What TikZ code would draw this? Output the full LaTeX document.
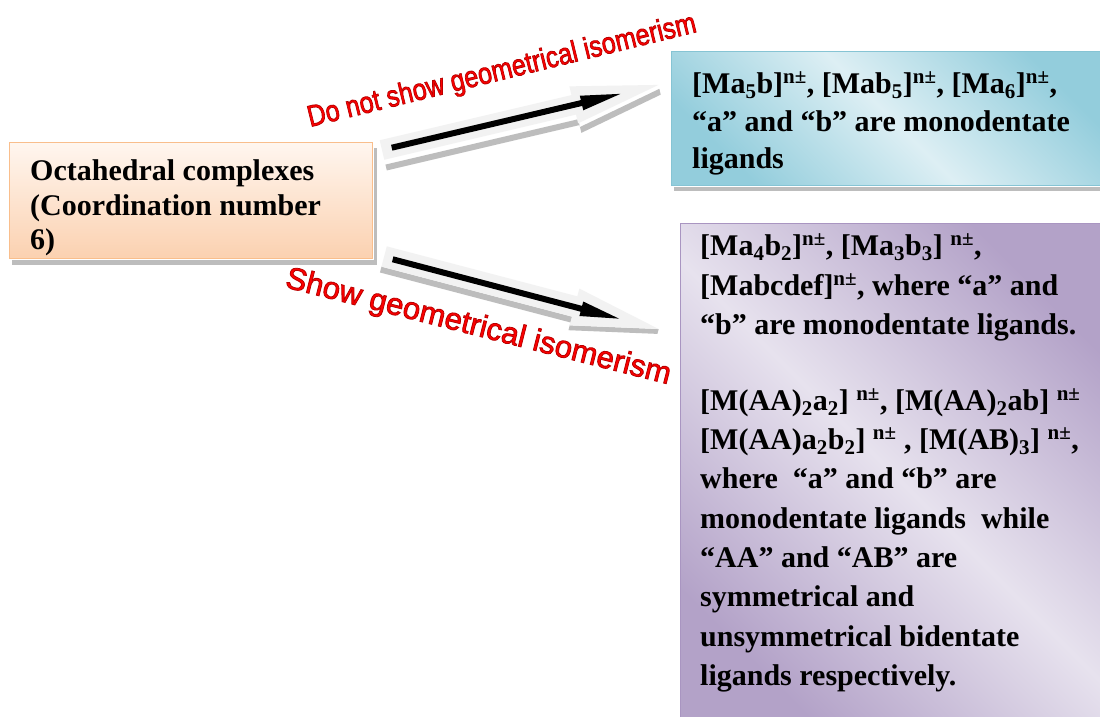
\documentclass[tikz,border=0pt]{standalone}
\usepackage{fontspec}
\setmainfont{Liberation Serif}
\newfontfamily\redlabelfont{Liberation Sans}
\usepackage{graphicx}
\usetikzlibrary{calc}

\definecolor{peachlight}{HTML}{FFF6EF}
\definecolor{peachdark}{HTML}{FBD1B0}
\definecolor{peachborder}{HTML}{F9BE8C}
\definecolor{bluelight}{HTML}{DDEFF4}
\definecolor{bluedark}{HTML}{93CDDC}
\definecolor{blueborder}{HTML}{86C4D4}
\definecolor{purplelight}{HTML}{E7E2EE}
\definecolor{purpledark}{HTML}{B3A2C8}
\definecolor{purpleborder}{HTML}{A995C1}
\definecolor{arrowfill}{HTML}{F2F2F2}
\definecolor{shadowgray}{HTML}{BDBDBD}
\definecolor{labelred}{HTML}{FF0000}

% red fill with a thin dark-red outline: text render mode 2 (fill, then stroke)
\newcommand{\outlinedtext}[1]{{\color{labelred}%
  \special{pdf:literal direct 2 Tr 0.8 w 0.72 0 0 RG}#1%
  \special{pdf:literal direct 0 Tr}}}

\tikzset{
  boxbase/.style={rectangle, anchor=north west, inner sep=0pt},
  orangebox/.style={boxbase, draw=peachborder, line width=1.4pt,
    top color=peachlight, bottom color=peachdark},
  bluebox/.style={boxbase, draw=blueborder, line width=1.2pt,
    top color=bluedark, bottom color=bluedark, middle color=bluelight, shading angle=-45},
  purplebox/.style={boxbase, draw=purpleborder, line width=1.2pt,
    top color=purpledark, bottom color=purpledark, middle color=purplelight, shading angle=-45},
  boxshadow/.style={fill=shadowgray},
  txt/.style={anchor=base west, inner sep=0pt, font=\fontsize{30}{36}\selectfont\bfseries},
  redlabel/.style={anchor=base west, inner sep=0pt},
  arrowouter/.style={fill=arrowfill},
  arrowshadow/.style={fill=shadowgray},
  arrowinner/.style={fill=black}
}

\begin{document}
\begin{tikzpicture}[x=1pt,y=-1pt]
\useasboundingbox (0,0) rectangle (1100,717);
\clip (0,0) rectangle (1100,717);
\fill[white] (0,0) rectangle (1100,717);

% boxes
\node[orangebox, minimum width=363pt, minimum height=116pt] (oct) at (9,142) {};
\fill[boxshadow] ($(oct.south west)+(3,1)$) rectangle ($(oct.south east)+(4,6)$);
\fill[boxshadow] ($(oct.north east)+(1,6)$) rectangle ($(oct.south east)+(4,6)$);

\node[bluebox, minimum width=440pt, minimum height=134pt] (nogeo) at (671,51) {};
\fill[boxshadow] ($(nogeo.south west)+(3,1)$) rectangle ($(nogeo.south east)+(4,5)$);

\node[purplebox, minimum width=430pt, minimum height=505pt] (geo) at (680,223) {};

% texts of the left box
\node[txt] (oct1) at (30,180) {Octahedral complexes};
\node[txt] (oct2) at (30,215) {(Coordination number};
\node[txt] (oct3) at (30,249) {6)};

% texts of the upper right box
\node[txt] (ng1) at (692,93) {[Ma\textsubscript{5}b]\textsuperscript{n±}, [Mab\textsubscript{5}]\textsuperscript{n±}, [Ma\textsubscript{6}]\textsuperscript{n±},};
\node[txt] (ng2) at (692,131) {“a” and “b” are monodentate};
\node[txt] (ng3) at (692,168) {ligands};

% texts of the lower right box
\node[txt] (g1) at (700,255) {[Ma\textsubscript{4}b\textsubscript{2}]\textsuperscript{n±}, [Ma\textsubscript{3}b\textsubscript{3}] \textsuperscript{n±},};
\node[txt] (g2) at (700,295) {[Mabcdef]\textsuperscript{n±}, where “a” and};
\node[txt] (g3) at (700,334) {“b” are monodentate ligands.};
\node[txt] (g4) at (700,410) {[M(AA)\textsubscript{2}a\textsubscript{2}] \textsuperscript{n±}, [M(AA)\textsubscript{2}ab] \textsuperscript{n±}};
\node[txt] (g5) at (700,449) {[M(AA)a\textsubscript{2}b\textsubscript{2}] \textsuperscript{n±} , [M(AB)\textsubscript{3}] \textsuperscript{n±},};
\node[txt] (g6) at (700,488) {where \ “a” and “b” are};
\node[txt] (g7) at (700,528) {monodentate ligands \ while};
\node[txt] (g8) at (700,567) {“AA” and “AB” are};
\node[txt] (g9) at (700,606) {symmetrical and};
\node[txt] (g10) at (700,646) {unsymmetrical bidentate};
\node[txt] (g11) at (700,685) {ligands respectively.};

% arrows
\coordinate (up0) at (382,150);
\coordinate (up1) at (658,85);
\coordinate (dn0) at (384,257);
\coordinate (dn1) at (658,329);

\begin{scope}[shift={(up0)}, rotate=13.25]
  \fill[arrowshadow] (0,15) -- (198,15) -- (198,23) -- (284,4) -- (284,10) -- (198,29) -- (198,21) -- (0,21) -- cycle;
  \fill[arrowouter] (0,-10) -- (197,-10) -- (197,-19) -- (284,0) -- (197,19) -- (197,10) -- (0,10) -- cycle;
  \fill[arrowinner] (10,-3) -- (205,-3) -- (205,-7.5) -- (245,0) -- (205,7.5) -- (205,3) -- (10,3) -- cycle;
\end{scope}

\begin{scope}[shift={(dn0)}, rotate=-14.7]
  \fill[arrowshadow] (0,10) -- (197,10) -- (197,19) -- (284,0) -- (284,5) -- (197,24) -- (197,16) -- (0,16) -- cycle;
  \fill[arrowouter] (0,-11) -- (197,-11) -- (197,-19) -- (284,0) -- (197,19) -- (197,10) -- (0,10) -- cycle;
  \fill[arrowinner] (9,-3) -- (204,-3) -- (204,-7.5) -- (243,0) -- (204,7.5) -- (204,3) -- (9,3) -- cycle;
\end{scope}

% red labels
\node[redlabel, rotate=13.8, font=\redlabelfont\fontsize{30}{36}\selectfont] (lab1) at (310,127)
  {\scalebox{0.84}[1]{\outlinedtext{Do not show geometrical isomerism}}};
\node[redlabel, rotate=-14.2, font=\redlabelfont\fontsize{31}{37}\selectfont] (lab2) at (284,287)
  {\outlinedtext{Show geometrical isomerism}};
\end{tikzpicture}
\end{document}
